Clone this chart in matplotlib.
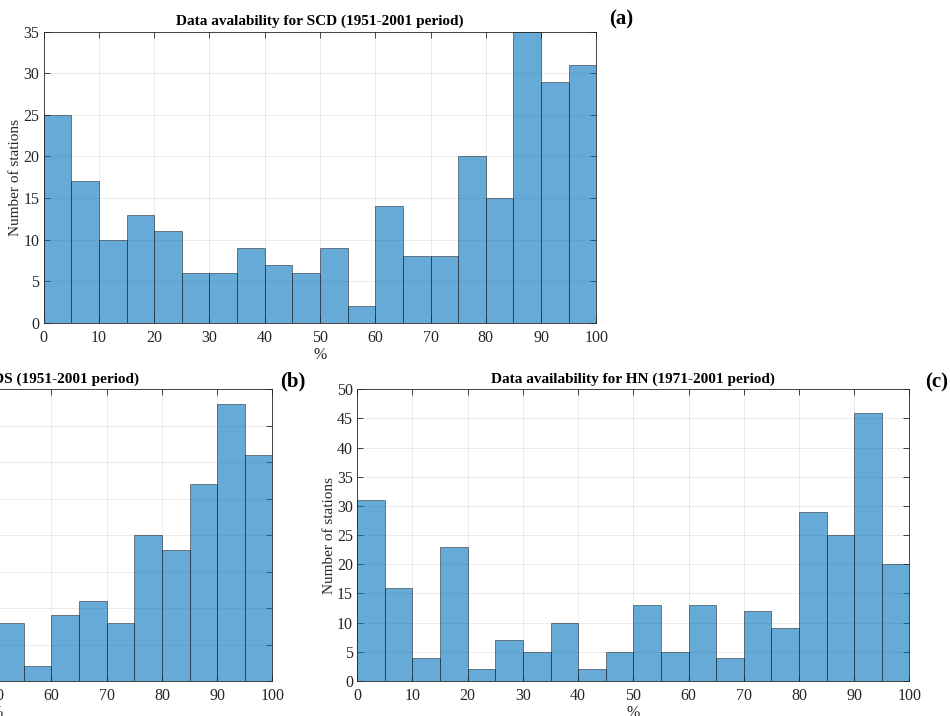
import numpy as np
import matplotlib
matplotlib.use("Agg")
import matplotlib.pyplot as plt

# histogram bins (percent of data availability)
bin_edges = np.arange(0, 105, 5)

# counts per 5% bin
scd_counts = [25, 17, 10, 13, 11, 6, 6, 9, 7, 6, 9, 2, 14, 8, 8, 20, 15, 35, 29, 31]
hn_counts = [31, 16, 4, 23, 2, 7, 5, 10, 2, 5, 13, 5, 13, 4, 12, 9, 29, 25, 46, 20]
# only the 50-100% bins of this panel are read
sds_edges = np.arange(50, 105, 5)
sds_counts = [8, 2, 9, 11, 8, 20, 18, 27, 38, 31]

titles = ['Data avalability for SCD (1951-2001 period)',
          'Data avalability for SDS (1951-2001 period)',
          'Data availability for HN (1971-2001 period)']

plt.rcParams['font.family'] = ['Liberation Serif', 'DejaVu Serif']
axcol = (0.15, 0.15, 0.15)
barcol = '#0072BD'

fig = plt.figure(figsize=(9.5, 7.16), dpi=100)


def hist_panel(rect, edges, counts, ymax, title, label, lab_xy):
    ax = fig.add_axes(rect)
    ax.bar(edges[:-1], counts, width=np.diff(edges), align='edge',
           color=barcol, alpha=0.6, edgecolor=(0.1, 0.1, 0.1), linewidth=0.6, zorder=2)
    ax.set_xlim(0, 100)
    ax.set_ylim(0, ymax)
    ax.set_xticks(np.arange(0, 101, 10))
    ax.set_yticks(np.arange(0, ymax + 1, 5))
    ax.grid(True, color=axcol, alpha=0.11, linewidth=0.6, zorder=0)
    ax.set_axisbelow(True)
    ax.tick_params(direction='in', top=True, right=True, length=4,
                   width=0.6, color=axcol, labelcolor=axcol, labelsize=11.5)
    ax.tick_params(axis='x', pad=5)
    ax.tick_params(axis='y', pad=3)
    for s in ax.spines.values():
        s.set_color(axcol)
        s.set_linewidth(0.6)
    ax.set_title(title, fontsize=11, fontweight='bold', pad=5)
    ax.set_xlabel('%', fontsize=11.5, color=axcol, labelpad=1)
    ax.set_ylabel('Number of stations', fontsize=11, color=axcol, labelpad=1)
    fig.text(lab_xy[0] / 950, 1 - lab_xy[1] / 716, label, fontsize=15,
             fontweight='bold', ha='center', va='center')
    return ax


hist_panel([0.046, 0.5493, 0.5817, 0.4064], bin_edges, scd_counts, 35,
           titles[0], '(a)', (621, 19))
hist_panel([-0.2947, 0.0489, 0.5814, 0.4074], sds_edges, sds_counts, 40,
           titles[1], '(b)', (293, 381))
hist_panel([0.3761, 0.0489, 0.5811, 0.4074], bin_edges, hn_counts, 50,
           titles[2], '(c)', (937, 382))

fig.savefig('out.png', dpi=100)
